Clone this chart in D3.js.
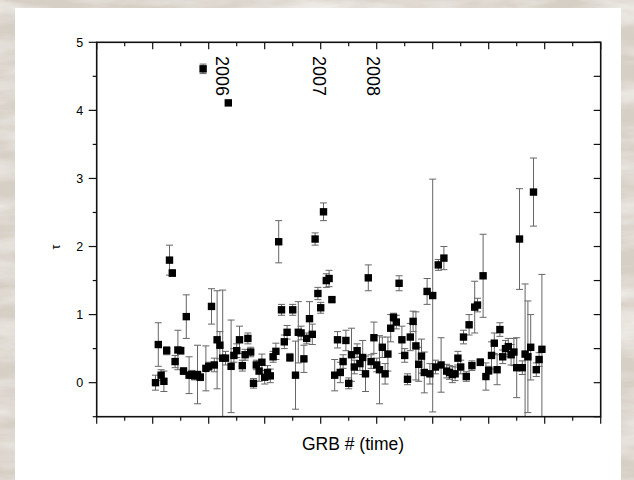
<!DOCTYPE html>
<html><head><meta charset="utf-8">
<script src="https://cdn.jsdelivr.net/npm/d3@7"></script>
<style>html,body{margin:0;padding:0;background:#d8d1c9;overflow:hidden} svg{display:block}</style>
</head><body><svg id="c" width="634" height="480"></svg>
<script>
// ---- data ----
const firstGRB = 21;   // GRB # of the first plotted burst
const tau = [
 0.00,0.56,0.11,0.02,0.47,1.80,1.61,0.31,0.48,0.47,
 0.17,0.97,0.11,0.12,0.10,0.12,0.08,4.61,0.21,0.24,
 1.12,0.26,0.63,0.55,0.36,0.36,4.11,0.24,0.40,0.47,
 0.63,0.25,0.41,0.65,0.45,-0.01,0.26,0.17,0.30,0.08,
 0.15,0.10,0.38,0.46,2.07,1.07,0.60,0.74,0.37,1.07,
 0.11,0.74,0.73,0.35,0.65,0.94,0.71,2.11,1.31,1.10,
 2.51,1.50,1.53,1.22,0.11,0.63,0.15,0.31,0.62,-0.01,
 0.41,0.23,0.47,0.28,0.37,0.13,1.54,0.31,0.66,0.26,
 0.19,0.52,0.13,0.42,0.80,0.96,0.89,1.46,0.63,0.40,
 0.05,0.67,0.90,0.54,0.27,0.39,0.15,1.34,0.13,1.28,
 0.23,1.73,0.26,1.83,0.17,0.15,0.12,0.13,0.36,0.23,
 0.67,0.09,0.85,0.25,1.11,1.14,0.30,1.57,0.09,0.18,
 0.40,0.58,0.19,0.78,0.38,0.50,0.53,0.41,0.45,0.22,
 2.11,0.22,0.42,0.38,0.52,2.80,0.19,0.34,0.49
];
const tauErr = [
 0.11,0.32,0.08,0.15,0.06,0.22,0.05,0.09,0.29,0.05,
 0.05,0.32,0.27,0.06,0.06,0.43,0.05,0.07,0.33,0.06,
 0.26,0.10,0.72,0.20,1.00,0.10,0.00,0.68,0.10,0.10,
 0.20,0.08,0.08,0.08,0.07,0.07,0.07,0.15,0.12,0.10,
 0.10,0.10,0.08,0.12,0.31,0.08,0.10,0.10,0.06,0.08,
 0.50,0.45,0.10,0.20,0.08,0.25,0.15,0.09,0.09,0.08,
 0.13,0.10,0.12,0.03,0.23,0.12,0.15,0.10,0.15,0.08,
 0.39,0.10,0.10,0.10,0.25,0.26,0.19,0.10,0.23,0.10,
 0.50,0.15,0.15,0.25,0.20,0.06,0.10,0.11,0.20,0.10,
 0.08,0.20,0.15,0.50,0.25,0.25,0.30,0.19,0.15,1.71,
 0.10,0.08,0.40,0.17,0.10,0.10,0.12,0.10,0.10,0.10,
 0.10,0.07,0.15,0.07,0.38,0.10,0.05,0.61,0.20,0.06,
 0.20,0.15,0.22,0.10,0.10,0.12,0.12,0.15,0.20,0.44,
 0.74,0.10,1.03,0.82,0.48,0.50,0.10,0.10,1.10
];
const yTickValues = [0,1,2,3,4,5];
const yearLabels = ["2006","2007","2008"];
const yearGRB = [42.6, 77.4, 96.5];
const xTitle = "GRB # (time)";
const yTitle = "τ";

// ---- layout ----
const svg = d3.select("#c");
const L = 96.7, R = 600.7, T = 42.3, B = 416.7;
const x = d3.scaleLinear().domain([0,180]).range([L,R]);
const y = d3.scaleLinear().domain([-0.5,5]).range([B,T]);

// marble-ish background
const defs = svg.append("defs");
const f = defs.append("filter").attr("id","marble").attr("x",0).attr("y",0).attr("width","100%").attr("height","100%");
f.append("feTurbulence").attr("type","fractalNoise").attr("baseFrequency","0.012 0.05").attr("numOctaves",4).attr("seed",7).attr("result","n");
f.append("feColorMatrix").attr("in","n").attr("type","matrix")
 .attr("values","0 0 0 0 0.92  0 0 0 0 0.90  0 0 0 0 0.87  0 0 0 -1.5 1.0");
svg.append("rect").attr("width",634).attr("height",480).attr("fill","#d6cfc6");
svg.append("rect").attr("width",634).attr("height",480).attr("filter","url(#marble)");
// white panel
svg.append("rect").attr("x",15).attr("y",8).attr("width",606).attr("height",472).attr("fill","#fff");

const g = svg.append("g");
const clip = defs.append("clipPath").attr("id","pc");
clip.append("rect").attr("x",L).attr("y",T).attr("width",R-L).attr("height",B-T);

const pts = tau.map((v,i)=>({n:firstGRB+i, v, e:tauErr[i]}));

// error bars
const eb = g.append("g").attr("clip-path","url(#pc)").attr("stroke","#666").attr("stroke-width",1).attr("fill","none");
const withErr = pts.filter(d=>d.e>0);
eb.selectAll("line.v").data(withErr).join("line").attr("class","v")
 .attr("x1",d=>x(d.n)).attr("x2",d=>x(d.n)).attr("y1",d=>y(d.v-d.e)).attr("y2",d=>y(d.v+d.e));
eb.selectAll("line.t").data(withErr).join("line").attr("class","t")
 .attr("x1",d=>x(d.n)-3.5).attr("x2",d=>x(d.n)+3.5).attr("y1",d=>y(d.v+d.e)).attr("y2",d=>y(d.v+d.e));
eb.selectAll("line.b").data(withErr).join("line").attr("class","b")
 .attr("x1",d=>x(d.n)-3.5).attr("x2",d=>x(d.n)+3.5).attr("y1",d=>y(d.v-d.e)).attr("y2",d=>y(d.v-d.e));

// markers
const s = 7.4;
g.append("g").selectAll("rect").data(pts).join("rect")
 .attr("x",d=>x(d.n)-s/2).attr("y",d=>y(d.v)-s/2).attr("width",s).attr("height",s).attr("fill","#000");

// axes
const font = "'Liberation Sans', Arial, Helvetica, sans-serif";
const xMajor = d3.range(0,181,20), xMinor = d3.range(10,180,20);
const yMajor = yTickValues, yMinor = d3.range(-0.5,5,1);
const ax = svg.append("g").attr("stroke","#111").attr("fill","none");
const tick = (x1,y1,x2,y2,w=1.2)=>ax.append("line").attr("x1",x1).attr("y1",y1).attr("x2",x2).attr("y2",y2).attr("stroke-width",w);
// bottom (outward)
xMajor.forEach(v=>tick(x(v),B,x(v),B+7));
xMinor.forEach(v=>tick(x(v),B,x(v),B+4));
// top (inward)
xMajor.forEach(v=>tick(x(v),T,x(v),T+7));
xMinor.forEach(v=>tick(x(v),T,x(v),T+4));
// left (outward)
yMajor.forEach(v=>tick(L-8,y(v),L,y(v)));
yMinor.forEach(v=>tick(L-4,y(v),L,y(v)));
// right (inward)
yMajor.forEach(v=>tick(R-7,y(v),R,y(v)));
yMinor.forEach(v=>tick(R-7,y(v),R,y(v)));
// frame
ax.append("rect").attr("x",L).attr("y",T).attr("width",R-L).attr("height",B-T).attr("stroke-width",1.6);

// y tick labels
svg.append("g").selectAll("text").data(yMajor).join("text")
 .attr("x",L-13.5).attr("y",d=>y(d)).attr("dy","0.36em").attr("text-anchor","end")
 .attr("font-family",font).attr("font-size",12.5).attr("fill","#000").text(d=>d);

// titles
svg.append("text").attr("x",353).attr("y",450).attr("text-anchor","middle")
 .attr("font-family",font).attr("font-size",17.5).attr("fill","#000").text(xTitle);
svg.append("text").attr("transform","translate(60,247) rotate(-90)").attr("text-anchor","middle")
 .attr("font-family",font).attr("font-size",12.5).attr("fill","#000").text(yTitle);

// year annotations
svg.append("g").selectAll("text").data(yearLabels).join("text")
 .attr("transform",(d,i)=>`translate(${x(yearGRB[i])},${y(4.8)}) rotate(90)`)
 .attr("font-family",font).attr("font-size",18).attr("fill","#000").text(d=>d);
</script></body></html>
